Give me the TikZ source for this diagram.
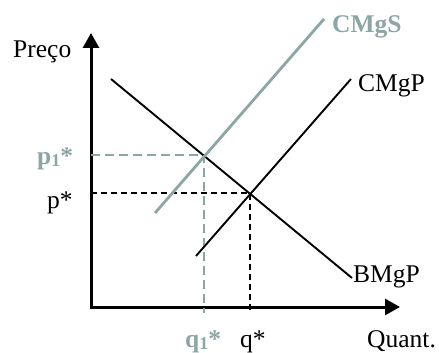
\documentclass[tikz,border=0pt]{standalone}
\usepackage{fontspec}
\setmainfont{Liberation Serif}
\usetikzlibrary{arrows.meta}
\definecolor{sgray}{RGB}{140,166,166}
\begin{document}
\begin{tikzpicture}[x=1pt,y=-1pt,
  lbl/.style={anchor=base west,inner sep=0pt,font=\fontsize{25.5}{28}\selectfont},
  glbl/.style={anchor=base west,inner sep=0pt,text=sgray,font=\fontsize{25.5}{28}\selectfont\bfseries},
  axisline/.style={line width=3pt,miter limit=10,{Triangle[length=15pt,width=16pt]}-{Triangle[length=15pt,width=16pt]}},
  curve/.style={line width=1.9pt},
  gcurve/.style={line width=2.8pt,draw=sgray},
  bdash/.style={line width=1.9pt,dash pattern=on 6pt off 4pt},
  gdash/.style={line width=2.8pt,draw=sgray,dash pattern=on 9pt off 5pt}]
\useasboundingbox (0,0) rectangle (439,353);
% axes
\coordinate (O) at (91,307);
\coordinate (ytip) at (91,33);
\coordinate (xtip) at (400,307);
\draw[axisline] (ytip) -- (O) -- (xtip);
% curves
\coordinate (b1) at (111,79);
\coordinate (b2) at (352,278);
\coordinate (c1) at (196,256);
\coordinate (c2) at (351,79);
\coordinate (s1) at (155,213);
\coordinate (s2) at (324,19);
\coordinate (E1) at (204,155);
\coordinate (E) at (250,193);
\coordinate (p1ax) at (91,155);
\coordinate (pax) at (91,193);
\coordinate (q1ax) at (204,313);
\coordinate (qax) at (250,310);
\draw[gdash] (p1ax) -- (E1) -- (q1ax);
\draw[bdash] (pax) -- (E) -- (qax);
\draw[curve] (b1) -- (b2);
\draw[curve] (c1) -- (c2);
\draw[gcurve] (s1) -- (s2);
% labels
\node[lbl] (preco) at (13,58) {Preço};
\node[glbl] (p1) at (37,164) {p{\fontsize{18}{18}\selectfont\raisebox{-2pt}{1}}*};
\node[lbl] (p) at (47,208) {p*};
\node[glbl] (q1) at (185,347) {q{\fontsize{18}{18}\selectfont\raisebox{-2pt}{1}}*};
\node[lbl] (q) at (240,347) {q*};
\node[lbl] (quant) at (367,347) {Quant.};
\node[glbl] (cmgs) at (332,33) {CMgS};
\node[lbl] (cmgp) at (358,92) {CMgP};
\node[lbl] (bmgp) at (353,282) {BMgP};
\end{tikzpicture}
\end{document}
